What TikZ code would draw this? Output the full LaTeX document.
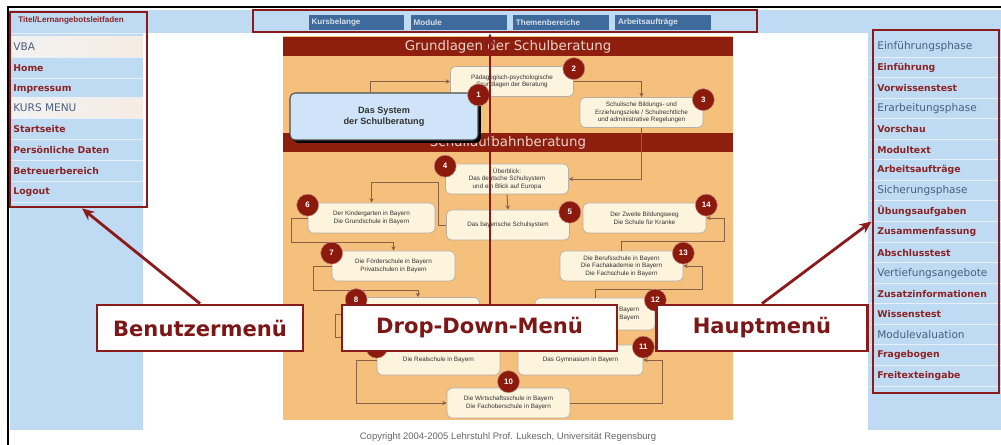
\documentclass[tikz,border=0pt]{standalone}
\usepackage{fontspec}
\setmainfont{DejaVu Sans}
\newfontfamily\arialfont{Liberation Sans}
\usepackage{tikz}
\usetikzlibrary{positioning,arrows.meta,shadows}

\definecolor{pageblue}{HTML}{BFDAF3}
\definecolor{tabblue}{HTML}{3E6A9C}
\definecolor{markred}{HTML}{8B1A1A}
\definecolor{itemred}{HTML}{8A2323}
\definecolor{headgrey}{HTML}{4A5F7E}
\definecolor{panel}{HTML}{F4C07C}
\definecolor{barred}{HTML}{8E1F0F}
\definecolor{bartext}{HTML}{EBD3CB}
\definecolor{cream}{HTML}{FDF4DE}
\definecolor{linkbrown}{HTML}{8A6048}
\definecolor{numred}{HTML}{8B1A0C}
\definecolor{sysblue}{HTML}{CFE4F8}

\tikzset{
  menuitem/.style={anchor=west, inner sep=0pt, text=itemred, font=\fontsize{5.3}{6}\selectfont\bfseries},
  menuhead/.style={anchor=west, inner sep=0pt, text=headgrey, font=\fontsize{6}{7}\selectfont},
  tab/.style={fill=tabblue, text=white!80!tabblue, font=\arialfont\fontsize{4.6}{5}\selectfont\bfseries, text width=1.8cm, align=left, inner xsep=0.06cm, inner ysep=0pt, minimum height=0.3cm},
  barhead/.style={fill=barred, text=bartext, font=\fontsize{7.6}{9}\selectfont, minimum width=9cm, minimum height=0.38cm, inner sep=0pt},
  stat/.style={draw=black!45!linkbrown!40, fill=cream, rounded corners=0.1cm, minimum width=2.46cm, minimum height=0.6cm, align=center, font=\arialfont\fontsize{3.6}{4.3}\selectfont, text=black!80, inner sep=1pt},
  num/.style={circle, fill=numred, draw=numred!50!white, line width=0.3pt, text=white, font=\arialfont\fontsize{4.5}{5}\selectfont\bfseries, minimum size=0.44cm, inner sep=0pt},
  flow/.style={draw=linkbrown, line width=0.5pt, -{Stealth[length=2.5pt,width=2.5pt]}},
  redframe/.style={draw=markred, line width=1.6pt, inner sep=0pt},
  callout/.style={redframe, fill=white, text=markred!90!black, font=\bfseries\fontsize{12}{14}\selectfont, minimum height=0.92cm},
  pointer/.style={draw=markred, line width=1.6pt, -{Stealth[length=7pt,width=6pt]}}
}

\begin{document}
\begin{tikzpicture}[x=0.02cm, y=-0.02cm]
\useasboundingbox (0,0) rectangle (1001,445);
% page
\fill[pageblue] (10,10) rectangle (1001,33);
\fill[pageblue] (10,33) rectangle (143,430);
\fill[pageblue] (868,33) rectangle (1001,430);
\draw[black, line width=1.2pt] (8,445) -- (8,7) -- (1001,7);

% left menu
\fill[left color=white!90!gray, right color=brown!15!white] (10,37) rectangle (143,57);
\fill[left color=white!90!gray, right color=brown!15!white] (10,98) rectangle (143,118);
\foreach \y in {33,57,78,98,118,139,160,181,202}
  \draw[white!60!pageblue, line width=0.5pt] (10,\y) -- (143,\y);
\node[menuitem, font=\arialfont\fontsize{4.6}{5}\selectfont\bfseries] (ltitle) at (18,20) {Titel/Lernangebotsleitfaden};
\foreach \t/\s/\y [count=\i] in {VBA/menuhead/47, Home/menuitem/68, Impressum/menuitem/89,
    KURS MENU/menuhead/108, Startseite/menuitem/129, Persönliche Daten/menuitem/150,
    Betreuerbereich/menuitem/171, Logout/menuitem/192}
  \node[\s] (l\i) at (13,\y) {\t};

% right menu
\foreach \i in {0,...,16}
  \draw[white!60!pageblue, line width=0.5pt] (870,{57+\i*20.56}) -- (1001,{57+\i*20.56});
\foreach \t/\s [count=\i] in {Einführungsphase/menuhead, Einführung/menuitem, Vorwissenstest/menuitem,
    Erarbeitungsphase/menuhead, Vorschau/menuitem, Modultext/menuitem, Arbeitsaufträge/menuitem,
    Sicherungsphase/menuhead, Übungsaufgaben/menuitem, Zusammenfassung/menuitem, Abschlusstest/menuitem,
    Vertiefungsangebote/menuhead, Zusatzinformationen/menuitem, Wissenstest/menuitem,
    Modulevaluation/menuhead, Fragebogen/menuitem, Freitexteingabe/menuitem}
  \node[\s] (r\i) at (877,{47+(\i-1)*20.56}) {\t};

% tabs
\node[tab] (t1) at (356.5,22.5) {Kursbelange};
\node[tab, right=0.11cm of t1] (t2) {Module};
\node[tab, right=0.11cm of t2] (t3) {Themenbereiche};
\node[tab, right=0.11cm of t3] (t4) {Arbeitsaufträge};

% centre panel
\fill[panel] (283,36) rectangle (733,420);
\node[barhead] (h1) at (508,46.5) {Grundlagen der Schulberatung};
\node[barhead] (h2) at (508,143) {Schullaufbahnberatung};

\node[stat] (b2) at (512,81.5) {Pädagogisch-psychologische\\Grundlagen der Beratung};
\node[stat] (b3) at (641.5,112.5) {Schulische Bildungs- und\\Erziehungsziele / Schulrechtliche\\und administrative Regelungen};
\node[stat] (b4) at (507,179) {Überblick:\\Das deutsche Schulsystem\\und ein Blick auf Europa};
\node[stat] (b5) at (508,225) {Das bayerische Schulsystem};
\node[stat, minimum width=2.54cm] (b6) at (371.5,218) {Der Kindergarten in Bayern\\Die Grundschule in Bayern};
\node[stat] (b7) at (393.5,266) {Die Förderschule in Bayern\\Privatschulen in Bayern};
\node[stat, minimum height=0.66cm] (b8) at (418,314) {Die Hauptschule in Bayern};
\node[stat] (b9) at (438.5,360) {Die Realschule in Bayern};
\node[stat] (b10) at (508.5,403) {Die Wirtschaftsschule in Bayern\\Die Fachoberschule in Bayern};
\node[stat, minimum width=2.5cm] (b11) at (580.5,360) {Das Gymnasium in Bayern};
\node[stat, minimum width=2.4cm, minimum height=0.64cm] (b12) at (595,314) {Die Berufsfachschule in Bayern\\Die Berufsoberschule in Bayern};
\node[stat] (b13) at (621.5,266) {Die Berufsschule in Bayern\\Die Fachakademie in Bayern\\Die Fachschule in Bayern};
\node[stat] (b14) at (644.5,218) {Der Zweite Bildungsweg\\Die Schule für Kranke};
\node[stat, fill=sysblue, draw=black!70, line width=0.6pt, minimum width=3.76cm, minimum height=0.94cm,
  font=\arialfont\fontsize{5.2}{6.4}\selectfont\bfseries,
  drop shadow={shadow xshift=0.06cm, shadow yshift=-0.06cm, fill=black, opacity=1}] (b1) at (384,116.5) {Das System\\der Schulberatung};

\draw[flow] ([xshift=-0.28cm]b1.north) |- (b2.west);
\draw[flow] (b2.east) -| (b3.north);
\draw[flow] (b3.south) |- (b4.east);
\draw[flow] (b4.south) -- (b5.north);
\coordinate (k56) at (438,182);
\draw[flow] (b5.west) -| (k56) -| (b6.north);
\coordinate (k67) at (291,242);
\draw[flow] (b6.west) -| (k67) -| (b7.north);
\coordinate (k78) at (313,290);
\draw[flow] (b7.west) -| (k78) -| (b8.north);
\coordinate (k89) at (335,337);
\draw[flow] (b8.west) -| (k89) -| (b9.north);
\draw[flow] (b9.west) -- ++(-20,0) |- (b10.west);
\draw[flow] (b10.east) -- ++(92,0) |- (b11.east);
\draw[flow] (b11.north) -- (b11.north |- b12.south);
\draw[flow] (b12.north) |- (702,289) |- (b13.east);
\draw[flow] (b13.north) |- (724,241) |- (b14.east);

\foreach \b/\a in {1/north east, 2/north east, 3/north east, 4/north west, 5/north east,
    6/north west, 7/north west, 8/north west, 9/north west, 11/north east,
    12/north east, 13/north east, 14/north east}
  \node[num] (n\b) at ([yshift=-0.05cm]b\b.\a) {\b};
\node[num] (n10) at ([yshift=0.12cm]b10.north) {10};

\node[text=black!60, font=\arialfont\fontsize{5.4}{6}\selectfont] (copy) at (508,437)
  {Copyright 2004-2005 Lehrstuhl Prof. Lukesch, Universität Regensburg};

% marked regions
\node[redframe, minimum width=2.74cm, minimum height=3.9cm] (lbox) at (78.5,109.5) {};
\node[redframe, minimum width=10.08cm, minimum height=0.44cm] (topbox) at (505,21) {};
\node[redframe, minimum width=2.52cm, minimum height=7.26cm] (rbox) at (936,211.5) {};

\node[callout, minimum width=4.12cm] (bm) at (200,328) {Benutzermenü};
\node[callout, minimum width=5.5cm] (dd) at (479.5,328) {Drop-Down-Menü};
\node[callout, minimum width=4.22cm] (hm) at (762,328) {Hauptmenü};

\draw[pointer] (bm.north) -- ([xshift=0.07cm]lbox.south);
\draw[pointer] ([xshift=0.21cm]dd.north) -- ([xshift=0.21cm]dd.north |- topbox.south);
\draw[pointer] (hm.north) -- ([yshift=-0.2cm]rbox.west);
\end{tikzpicture}
\end{document}
